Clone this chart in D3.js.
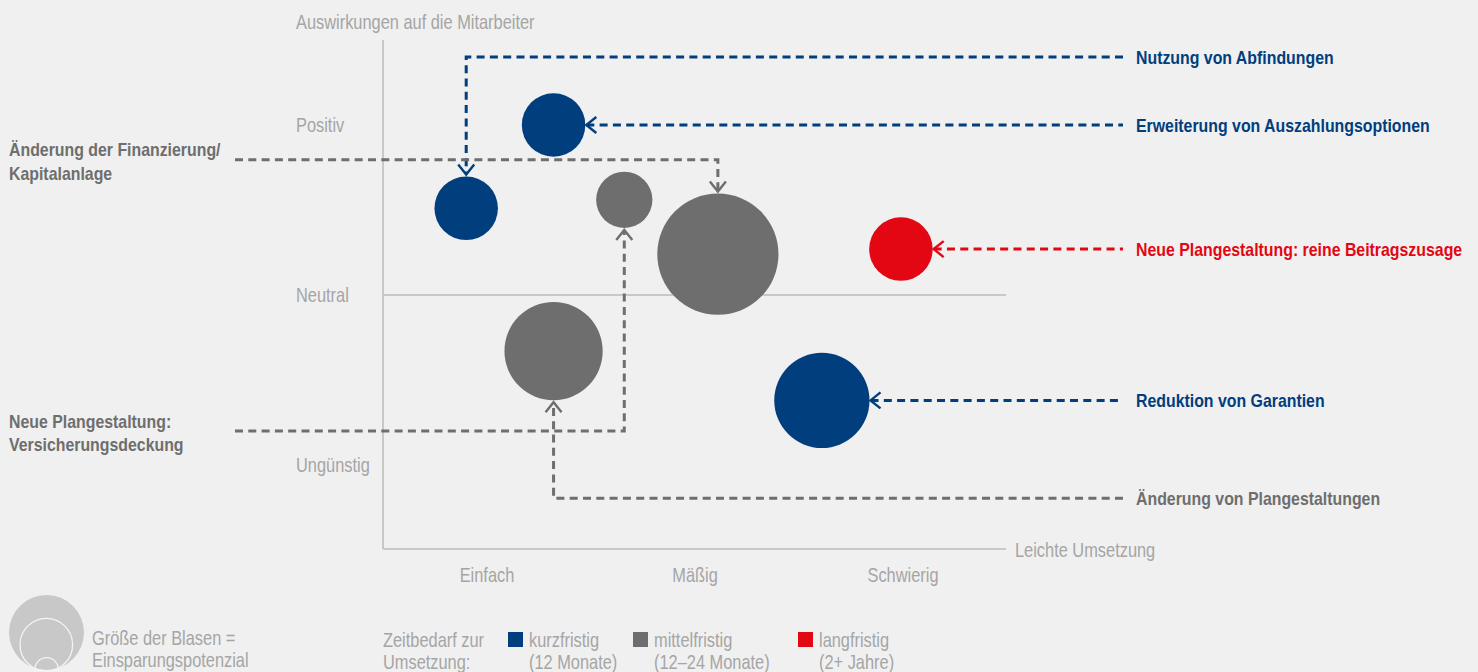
<!DOCTYPE html>
<html><head><meta charset="utf-8">
<script src="https://cdn.jsdelivr.net/npm/d3@7"></script>
<style>
html,body{margin:0;padding:0;background:#f0f0f0;}
svg{display:block;font-family:"Liberation Sans",Arial,sans-serif;}
</style></head><body>
<svg id="chart" width="1478" height="672"></svg>
<script>
// ---------- data ----------
const xCategories = ["Einfach", "Mäßig", "Schwierig"];          // Leichte Umsetzung 1..3
const yCategories = ["Ungünstig", "Neutral", "Positiv"];         // Auswirkungen -1..1
const measures = [
  "Nutzung von Abfindungen",
  "Erweiterung von Auszahlungsoptionen",
  "Neue Plangestaltung: Versicherungsdeckung",
  "Änderung der Finanzierung/ Kapitalanlage",
  "Neue Plangestaltung: reine Beitragszusage",
  "Änderung von Plangestaltungen",
  "Reduktion von Garantien"
];
const ease    = [0.90, 1.32, 1.66, 2.11, 2.99, 1.32, 2.61];
const impact  = [0.51, 1.00, 0.56, 0.24, 0.27, -0.33, -0.62];
const savings = [28, 28, 22, 102, 28, 67, 63];
const horizon = ["kurz", "kurz", "mittel", "mittel", "lang", "mittel", "kurz"];
const horizonKeys = ["kurz", "mittel", "lang"];
const horizonNames = ["kurzfristig", "mittelfristig", "langfristig"];
const horizonSub = ["(12 Monate)", "(12–24 Monate)", "(2+ Jahre)"];
const horizonColors = ["#003e7e", "#6e6e6e", "#e30613"];

// label routing (annotation layout): text lines, side, label row (impact units, null = bubble row), route type
const labelLines = [
  [["Nutzung von Abfindungen"], "right", 1.40, "hv"],
  [["Erweiterung von Auszahlungsoptionen"], "right", null, "h"],
  [["Neue Plangestaltung:", "Versicherungsdeckung"], "left", -0.80, "hv"],
  [["Änderung der Finanzierung/", "Kapitalanlage"], "left", 0.795, "hv"],
  [["Neue Plangestaltung: reine Beitragszusage"], "right", null, "h"],
  [["Änderung von Plangestaltungen"], "right", -1.195, "hv"],
  [["Reduktion von Garantien"], "right", null, "h"]
];

// ---------- setup ----------
const svg = d3.select("#chart");
const x = d3.scaleLinear().domain([1, 3]).range([487, 903]);
const y = d3.scaleLinear().domain([-1, 1]).range([465, 125]);
const r = d3.scaleSqrt().domain([0, 100]).range([0, 60]);
const color = d3.scaleOrdinal().domain(horizonKeys).range(horizonColors);
const axisCol = "#c8c8c8", lightText = "#a5a5a5";
const axisLeft = 383, axisRight = 1006, axisBottom = 549, axisTop = 40;

// condensed text helper (horizontally compressed Liberation Sans)
function ntext(parent, px, py, str, opt = {}) {
  const sx = opt.weight === "bold" ? 0.835 : 0.82;
  return parent.append("text")
    .attr("transform", `translate(${px},${py}) scale(${sx},1)`)
    .attr("fill", opt.fill || lightText)
    .attr("font-size", opt.size || 20)
    .attr("font-weight", opt.weight || "normal")
    .attr("text-anchor", opt.anchor || "start")
    .text(str);
}

const data = measures.map((m, i) => ({
  name: m, ease: ease[i], impact: impact[i], savings: savings[i], horizon: horizon[i],
  lines: labelLines[i][0], side: labelLines[i][1], row: labelLines[i][2], route: labelLines[i][3]
}));

// axes
const g = svg.append("g");
g.append("line").attr("x1", axisLeft).attr("x2", axisLeft).attr("y1", axisTop).attr("y2", axisBottom)
  .attr("stroke", axisCol).attr("stroke-width", 2);
g.append("line").attr("x1", axisLeft).attr("x2", axisRight).attr("y1", axisBottom).attr("y2", axisBottom)
  .attr("stroke", axisCol).attr("stroke-width", 2);
g.append("line").attr("x1", axisLeft).attr("x2", axisRight).attr("y1", y(0)).attr("y2", y(0))
  .attr("stroke", axisCol).attr("stroke-width", 2);

ntext(g, 296, 29, "Auswirkungen auf die Mitarbeiter");
ntext(g, 1015, 557, "Leichte Umsetzung");
yCategories.forEach((c, i) => ntext(g, 296, y(i - 1) + 7, c));
xCategories.forEach((c, i) => ntext(g, x(i + 1), 582, c, {anchor: "middle"}));

// bubbles
g.selectAll(".bubble").data(data).join("circle")
  .attr("class", "bubble")
  .attr("cx", d => x(d.ease)).attr("cy", d => y(d.impact)).attr("r", d => r(d.savings))
  .attr("fill", d => color(d.horizon));

// connectors + labels
const rightEnd = 1123, leftStart = 235;
data.forEach(d => {
  const cx = x(d.ease), cy = y(d.impact), rr = r(d.savings);
  const ly = d.row === null ? cy : y(d.row);
  const lx = d.side === "right" ? rightEnd : leftStart;
  const c = color(d.horizon);
  let pts, arms;
  if (d.route === "h") {
    const tx = cx + rr + 1;
    pts = [[tx, ly], [lx, ly]];
    arms = [[tx + 10, ly - 8], [tx, ly], [tx + 10, ly + 8]];
  } else {
    const down = ly < cy;
    const ty = down ? cy - rr - 2 : cy + rr + 2;
    pts = [[lx, ly], [cx, ly], [cx, ty]];
    const s = down ? -1 : 1;
    arms = [[cx - 8, ty + s * 10], [cx, ty], [cx + 8, ty + s * 10]];
  }
  g.append("path").attr("d", d3.line()(pts)).attr("fill", "none").attr("stroke", c)
    .attr("stroke-width", 3).attr("stroke-dasharray", "8,5.3");
  g.append("path").attr("d", d3.line()(arms)).attr("fill", "none").attr("stroke", c)
    .attr("stroke-width", 2.4);
  if (d.side === "right") {
    ntext(g, 1136, ly + 7, d.lines[0], {fill: c, size: 19, weight: "bold"});
  } else {
    d.lines.forEach((s, i) => ntext(g, 9, ly - 3.5 + i * 23.3, s, {fill: c, size: 19, weight: "bold"}));
  }
});

// size legend
const lg = svg.append("g");
lg.append("circle").attr("cx", 46.5).attr("cy", 632.5).attr("r", 37.5).attr("fill", "#c8c8c8");
lg.append("circle").attr("cx", 46.3).attr("cy", 644.7).attr("r", 26.3).attr("fill", "none")
  .attr("stroke", "#f4f4f4").attr("stroke-width", 1.3);
lg.append("circle").attr("cx", 46.6).attr("cy", 669.4).attr("r", 11.7).attr("fill", "none")
  .attr("stroke", "#f4f4f4").attr("stroke-width", 1.3);
["Größe der Blasen =", "Einsparungspotenzial"].forEach((s, i) => ntext(lg, 92, 645 + i * 22, s));

// colour legend
["Zeitbedarf zur", "Umsetzung:"].forEach((s, i) => ntext(lg, 383, 646.5 + i * 22, s));
const legX = [508, 633, 798];
horizonKeys.forEach((k, i) => {
  lg.append("rect").attr("x", legX[i]).attr("y", 632).attr("width", 15).attr("height", 15)
    .attr("fill", color(k));
  [horizonNames[i], horizonSub[i]].forEach((s, j) => ntext(lg, legX[i] + 21, 646.5 + j * 22, s));
});
</script>
</body></html>
